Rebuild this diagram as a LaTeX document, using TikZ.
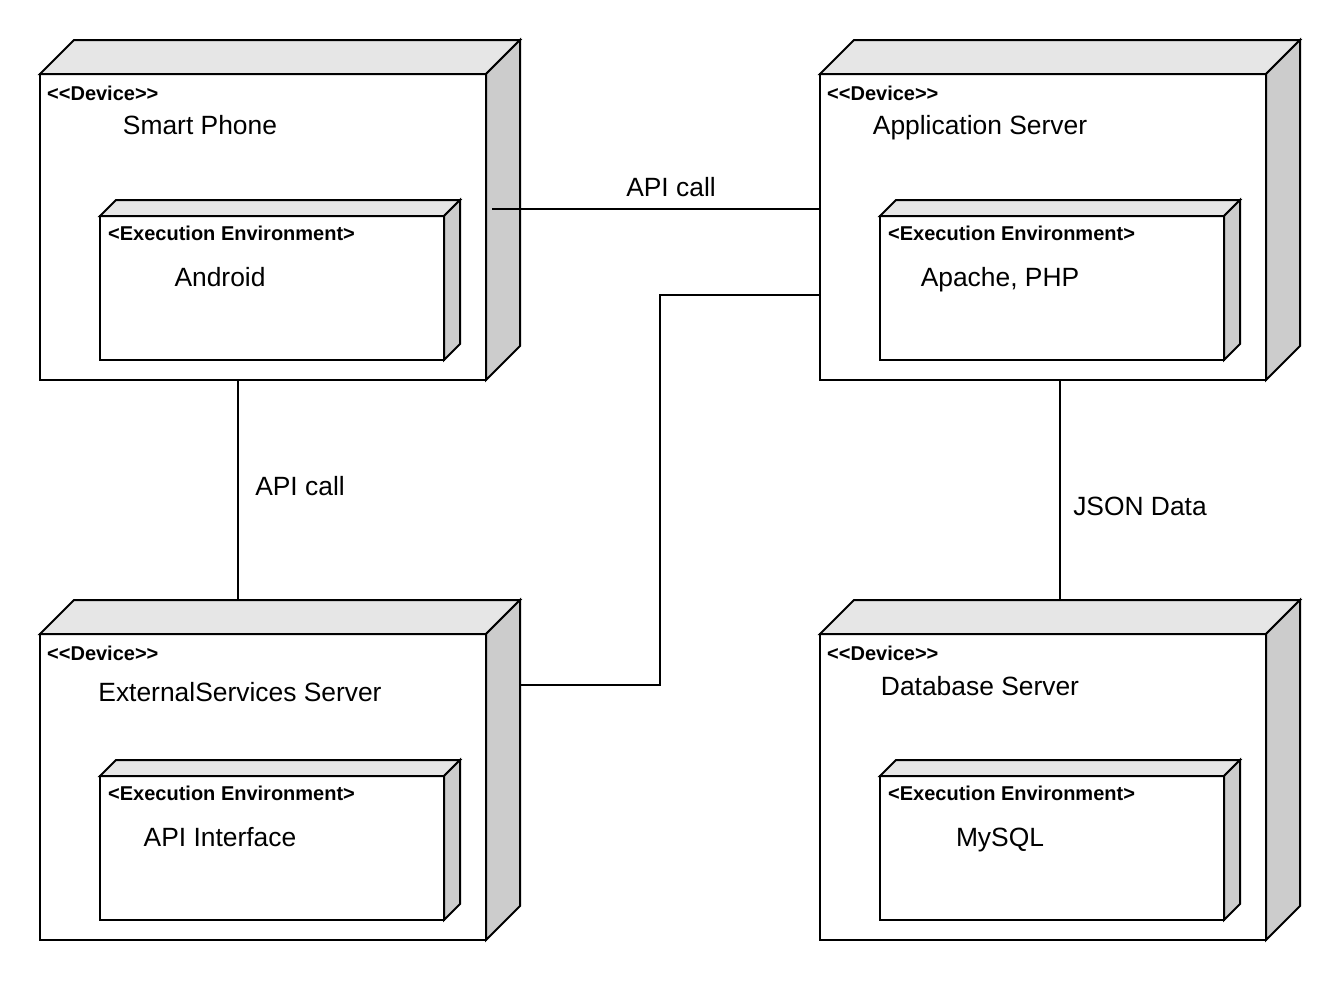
\documentclass[tikz,border=0pt]{standalone}
\usepackage{fontspec}
\setmainfont{Liberation Sans}
\tikzset{
  ln/.style={line width=2pt, line join=miter},
  front/.style={ln, draw=black, fill=white, rectangle, outer sep=0pt, inner sep=0pt},
  topface/.style={ln, draw=black, fill=topgray},
  sideface/.style={ln, draw=black, fill=sidegray},
  stereo/.style={anchor=base west, inner sep=0pt, font=\bfseries\fontsize{20}{23}\selectfont},
  title/.style={anchor=base, inner sep=0pt, font=\fontsize{26.4}{30}\selectfont},
  conn/.style={ln, draw=black},
}
\definecolor{topgray}{HTML}{E6E6E6}
\definecolor{sidegray}{HTML}{CCCCCC}
\newcommand\cubefaces[2]{%
  \draw[topface] (#1.north west) -- ([shift={(#2pt,#2pt)}]#1.north west) -- ([shift={(#2pt,#2pt)}]#1.north east) -- (#1.north east) -- cycle;
  \draw[sideface] (#1.north east) -- ([shift={(#2pt,#2pt)}]#1.north east) -- ([shift={(#2pt,#2pt)}]#1.south east) -- (#1.south east) -- cycle;
}
\newcommand\devlabel{<\kern0pt<Device>\kern0pt>}
\begin{document}
\begin{tikzpicture}[x=1pt,y=-1pt]
\useasboundingbox[fill=white] (0,0) rectangle (1340,980);

% ---- Smart Phone
\node[front, minimum width=446pt, minimum height=306pt] (sp) at (263,227) {};
\cubefaces{sp}{34}
\node[stereo] (spst) at (47,100.5) {\devlabel};
\node[title] (spt) at (200,134) {Smart Phone};
\node[front, minimum width=344pt, minimum height=144pt] (spi) at (272,288) {};
\cubefaces{spi}{16}
\node[stereo] (spist) at (108,240.5) {<Execution Environment>};
\node[title] (spit) at (220,286) {Android};

% ---- Application Server
\node[front, minimum width=446pt, minimum height=306pt] (app) at (1043,227) {};
\cubefaces{app}{34}
\node[stereo] (appst) at (827,100.5) {\devlabel};
\node[title] (appt) at (980,134) {Application Server};
\node[front, minimum width=344pt, minimum height=144pt] (appi) at (1052,288) {};
\cubefaces{appi}{16}
\node[stereo] (appist) at (888,240.5) {<Execution Environment>};
\node[title] (appit) at (1000,286) {Apache, PHP};

% ---- ExternalServices Server
\node[front, minimum width=446pt, minimum height=306pt] (ext) at (263,787) {};
\cubefaces{ext}{34}
\node[stereo] (extst) at (47,660.5) {\devlabel};
\node[title] (extt) at (240,701) {ExternalServices Server};
\node[front, minimum width=344pt, minimum height=144pt] (exti) at (272,848) {};
\cubefaces{exti}{16}
\node[stereo] (extist) at (108,800.5) {<Execution Environment>};
\node[title] (extit) at (220,846) {API Interface};

% ---- Database Server
\node[front, minimum width=446pt, minimum height=306pt] (db) at (1043,787) {};
\cubefaces{db}{34}
\node[stereo] (dbst) at (827,660.5) {\devlabel};
\node[title] (dbt) at (980,695) {Database Server};
\node[front, minimum width=344pt, minimum height=144pt] (dbi) at (1052,848) {};
\cubefaces{dbi}{16}
\node[stereo] (dbist) at (888,800.5) {<Execution Environment>};
\node[title] (dbit) at (1000,846) {MySQL};

% ---- connectors
\coordinate (c1) at (492,209);
\draw[conn] (c1) -- (c1 -| app.west);
\node[title] (l1) at (671,196) {API call};

\draw[conn] ([xshift=-25pt]sp.south) -- ([shift={(-25pt,34pt)}]ext.north);
\node[title] (l2) at (300,495) {API call};

\coordinate (c2) at (520,685);
\coordinate (bend) at (660,295);
\draw[conn] (c2) -| (bend) -- (bend -| app.west);

\draw[conn] ([xshift=17pt]app.south) -- ([shift={(17pt,34pt)}]db.north);
\node[title] (l3) at (1140,515) {JSON Data};
\end{tikzpicture}
\end{document}
